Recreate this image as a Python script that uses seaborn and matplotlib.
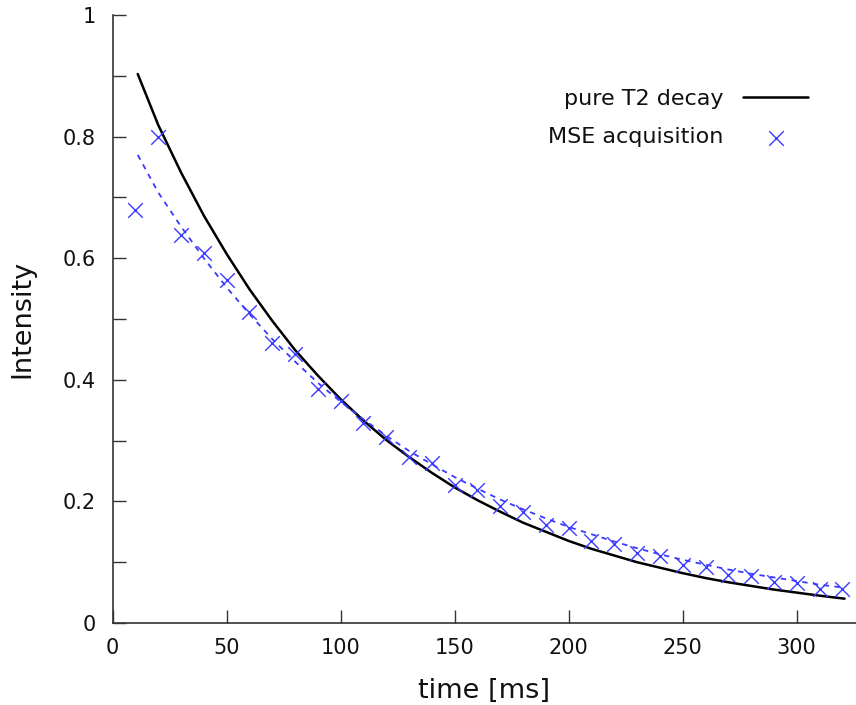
import matplotlib
matplotlib.use("Agg")
import matplotlib.pyplot as plt
import seaborn as sns
import pandas as pd

sns.set_theme(style="ticks")
plt.rcParams['font.family'] = ['DejaVu Sans']

# pure T2 decay curve
t_curve = [11, 20, 30, 40, 50, 60, 70, 80, 90, 100, 110, 120, 130, 140, 150, 160,
           170, 180, 190, 200, 210, 220, 230, 240, 250, 260, 270, 280, 290, 300, 310, 321]
pure_t2 = [0.903, 0.819, 0.741, 0.670, 0.607, 0.549, 0.497, 0.449, 0.407, 0.368, 0.333,
           0.301, 0.273, 0.247, 0.223, 0.202, 0.183, 0.165, 0.150, 0.135, 0.122, 0.111,
           0.100, 0.091, 0.082, 0.074, 0.067, 0.061, 0.055, 0.050, 0.045, 0.040]

# dashed fit through MSE data
mse_fit = [0.770, 0.708, 0.652, 0.600, 0.552, 0.508, 0.467, 0.430, 0.395, 0.364, 0.335,
           0.308, 0.283, 0.261, 0.240, 0.221, 0.203, 0.187, 0.172, 0.158, 0.146, 0.134,
           0.123, 0.113, 0.104, 0.096, 0.088, 0.081, 0.075, 0.069, 0.063, 0.058]

# MSE acquisition points
t_echo = [10, 20, 30, 40, 50, 60, 70, 80, 90, 100, 110, 120, 130, 140, 150, 160,
          170, 180, 190, 200, 210, 220, 230, 240, 250, 260, 270, 280, 290, 300, 310, 320]
mse = [0.679, 0.799, 0.638, 0.609, 0.564, 0.512, 0.461, 0.442, 0.385, 0.365, 0.329,
       0.306, 0.273, 0.263, 0.227, 0.219, 0.192, 0.183, 0.161, 0.156, 0.135, 0.130,
       0.115, 0.110, 0.095, 0.092, 0.079, 0.077, 0.067, 0.066, 0.056, 0.056]

x_ticks = [0, 50, 100, 150, 200, 250, 300]
y_ticks = [0, 0.2, 0.4, 0.6, 0.8, 1]
y_tick_labels = ["0", "0.2", "0.4", "0.6", "0.8", "1"]

df_curve = pd.DataFrame({"t": t_curve, "pure": pure_t2, "fit": mse_fit})
df_pts = pd.DataFrame({"t": t_echo, "mse": mse})

fig = plt.figure(figsize=(8.56, 7.05), dpi=100)
ax = fig.add_axes([0.1316, 0.1163, 0.8684, 0.8624])

blue = "#3a3aff"
sns.lineplot(data=df_curve, x="t", y="pure", ax=ax, color="black", lw=1.8,
             label="pure T2 decay")
sns.lineplot(data=df_curve, x="t", y="fit", ax=ax, color=blue, lw=1.3,
             dashes=False, label="_nolegend_")
ax.lines[-1].set_linestyle((0, (3, 3)))
sns.scatterplot(data=df_pts, x="t", y="mse", ax=ax, marker="x", s=110,
                color=blue, linewidth=1.0, label="MSE acquisition", zorder=3)

ax.set_xlim(0, 326)
ax.set_ylim(0, 1)
ax.set_xticks(x_ticks)
ax.set_yticks(y_ticks)
ax.set_yticklabels(y_tick_labels)
ax.set_yticks([0.1, 0.3, 0.5, 0.7, 0.9], minor=True)
ax.tick_params(axis="both", which="both", direction="in", length=9.5, width=1,
               color="#333333", labelsize=15, labelcolor="#111111")
ax.tick_params(axis="x", pad=11)
ax.tick_params(axis="y", pad=12)
for s in ["top", "right"]:
    ax.spines[s].set_visible(False)
for s in ["left", "bottom"]:
    ax.spines[s].set_color("#333333")
    ax.spines[s].set_linewidth(1.2)

ax.set_xlabel("time [ms]", fontsize=19.5, labelpad=14, color="#111111")
ax.set_ylabel("Intensity", fontsize=19.5, labelpad=20, color="#111111")

leg = ax.legend(loc="upper right", bbox_to_anchor=(0.962, 0.912), frameon=False,
                markerfirst=False, fontsize=16, handlelength=2.9,
                labelspacing=0.85, handletextpad=0.9)
for t in leg.get_texts():
    t.set_color("#111111")

fig.savefig("out.png", dpi=100)
